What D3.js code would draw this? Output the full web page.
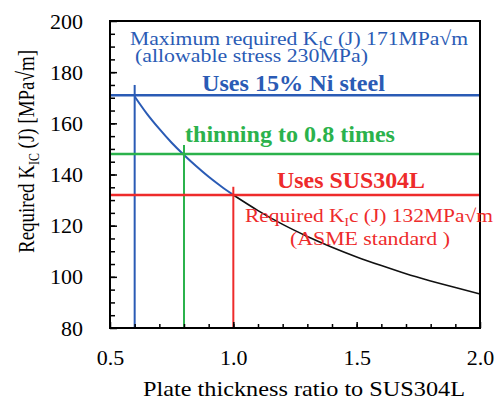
<!DOCTYPE html>
<html>
<head>
<meta charset="utf-8">
<script src="https://cdn.jsdelivr.net/npm/d3@7"></script>
<style>
  html, body { margin: 0; padding: 0; background: #fff; }
  svg { display: block; }
</style>
</head>
<body>
<svg id="chart" width="501" height="400"></svg>
<script>
// ---- data ----
const thicknessRatio = [0.6, 0.65, 0.7, 0.75, 0.8, 0.85, 0.9, 0.95, 1.0, 1.1, 1.2, 1.3, 1.4, 1.5, 1.6, 1.7, 1.8, 1.9, 2.0];
const requiredK      = [170.5, 163.7, 157.8, 152.4, 147.6, 143.2, 139.1, 135.4, 132, 125.9, 120.5, 115.8, 111.6, 107.8, 104.4, 101.2, 98.4, 95.8, 93.3];

// reference levels: K value, thickness ratio, top of the vertical marker
const refNames   = ["ni15", "thin08", "sus304"];
const refK       = [171, 148, 132];
const refRatio   = [0.6, 0.8, 1.0];
const refVertTop = [175, 151.5, 135.2];
const refColors  = ["#2a5bb5", "#2bb24c", "#ee2b2b"];

const xTicks = [0.5, 1.0, 1.5, 2.0];
const xTickLabels = ["0.5", "1.0", "1.5", "2.0"];
const yTicks = [80, 100, 120, 140, 160, 180, 200];

(function() {
  "use strict";

  const FONT = "Liberation Serif";
  const svg = d3.select("#chart").attr("font-family", FONT);
  const mLeft = 110, mRight = 480, mTop = 21, mBottom = 328;

  const x = d3.scaleLinear().domain([0.5, 2.0]).range([mLeft, mRight]);
  const y = d3.scaleLinear().domain([80, 200]).range([mBottom, mTop]);

  const points = thicknessRatio.map((t, i) => ({ t, k: requiredK[i] }));
  const line = d3.line().x(d => x(d.t)).y(d => y(d.k)).curve(d3.curveMonotoneX);

  // curve: blue up to SUS304L thickness, black after
  svg.append("path")
    .datum(points.filter(d => d.t >= 1.0))
    .attr("d", line)
    .attr("fill", "none")
    .attr("stroke", "#111")
    .attr("stroke-width", 1.6);

  svg.append("path")
    .datum(points.filter(d => d.t <= 1.0))
    .attr("d", line)
    .attr("fill", "none")
    .attr("stroke", refColors[0])
    .attr("stroke-width", 2);

  // reference lines
  refNames.forEach((name, i) => {
    svg.append("line")
      .attr("x1", x(0.5)).attr("x2", x(2.0))
      .attr("y1", y(refK[i])).attr("y2", y(refK[i]))
      .attr("stroke", refColors[i]).attr("stroke-width", 2.4);
    svg.append("line")
      .attr("x1", x(refRatio[i])).attr("x2", x(refRatio[i]))
      .attr("y1", y(80)).attr("y2", y(refVertTop[i]))
      .attr("stroke", refColors[i]).attr("stroke-width", 2);
  });

  // ---- axes (ticks point inward) ----
  const xMinor = d3.range(6, 20).map(v => v / 10);
  svg.append("g")
    .attr("transform", `translate(0,${mBottom})`)
    .call(d3.axisBottom(x).tickValues(xMinor).tickSize(-4).tickFormat(""))
    .call(g => g.select(".domain").remove())
    .selectAll("line").attr("stroke", "#000").attr("stroke-width", 1.5);

  const xAxis = svg.append("g")
    .attr("transform", `translate(0,${mBottom})`)
    .call(d3.axisBottom(x).tickValues(xTicks).tickSize(-6).tickPadding(21)
      .tickFormat((d, i) => xTickLabels[i]))
    .attr("font-family", FONT);
  xAxis.select(".domain").remove();
  xAxis.selectAll("line").attr("stroke", "#000").attr("stroke-width", 1.5);
  xAxis.selectAll("text")
    .attr("font-family", FONT).attr("font-size", 22).attr("fill", "#000");

  const yMinor = d3.range(85, 200, 5);
  svg.append("g")
    .attr("transform", `translate(${mLeft},0)`)
    .call(d3.axisLeft(y).tickValues(yMinor).tickSize(-5).tickFormat(""))
    .call(g => g.select(".domain").remove())
    .selectAll("line").attr("stroke", "#000").attr("stroke-width", 1.5);

  const yAxis = svg.append("g")
    .attr("transform", `translate(${mLeft},0)`)
    .call(d3.axisLeft(y).tickValues(yTicks).tickSize(-7).tickPadding(27))
    .attr("font-family", FONT);
  yAxis.select(".domain").remove();
  yAxis.selectAll("line").attr("stroke", "#000").attr("stroke-width", 1.5);
  yAxis.selectAll("text")
    .attr("font-family", FONT).attr("font-size", 22).attr("fill", "#000");

  // frame
  svg.append("rect")
    .attr("x", mLeft).attr("y", mTop)
    .attr("width", mRight - mLeft).attr("height", mBottom - mTop)
    .attr("fill", "none").attr("stroke", "#000").attr("stroke-width", 2);

  // ---- axis titles ----
  svg.append("text")
    .attr("x", 143).attr("y", 396)
    .attr("font-size", 22).attr("font-family", FONT)
    .attr("textLength", 322).attr("lengthAdjust", "spacingAndGlyphs")
    .text("Plate thickness ratio to SUS304L");

  const yTitle = svg.append("text")
    .attr("transform", "translate(34,253) rotate(-90)")
    .attr("font-size", 24).attr("font-family", FONT)
    .attr("textLength", 203).attr("lengthAdjust", "spacingAndGlyphs");
  yTitle.append("tspan").text("Required K");
  yTitle.append("tspan").attr("dy", 5).attr("font-size", 15).text("IC");
  yTitle.append("tspan").attr("dy", -5).text(" (J) [MPa\u221Am]");

  // ---- annotations ----
  function subText(xPos, yPos, width, size, color, before, sub, after, weight) {
    const t = svg.append("text")
      .attr("x", xPos).attr("y", yPos)
      .attr("font-family", FONT)
      .attr("font-size", size).attr("fill", color)
      .attr("font-weight", weight || "normal")
      .attr("textLength", width).attr("lengthAdjust", "spacingAndGlyphs");
    t.append("tspan").text(before);
    if (sub) {
      t.append("tspan").attr("dy", size * 0.22).attr("font-size", size * 0.62).text(sub);
      t.append("tspan").attr("dy", -size * 0.22).text(after);
    }
    return t;
  }

  subText(130, 45, 338, 19.5, refColors[0], "Maximum required K", "I", "c (J) 171MPa\u221Am");
  subText(135, 62, 233, 19.5, refColors[0], "(allowable stress 230MPa)");
  subText(202, 91, 183, 23, refColors[0], "Uses 15% Ni steel", null, null, "bold");
  subText(185, 142, 210, 23, refColors[1], "thinning to 0.8 times", null, null, "bold");
  subText(277, 188, 148, 23, refColors[2], "Uses SUS304L", null, null, "bold");
  subText(245, 222, 248, 18.5, refColors[2], "Required K", "I", "c (J) 132MPa\u221Am");
  subText(290, 245, 160, 18.5, refColors[2], "(ASME standard )");
})();
</script>
</body>
</html>
